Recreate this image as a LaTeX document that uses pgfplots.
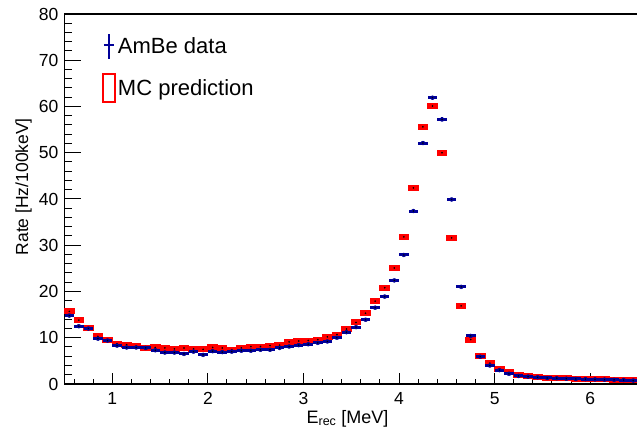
\documentclass[border=0pt]{standalone}
\usepackage{fontspec}
\setmainfont{Liberation Sans}
\usepackage{pgfplots}
\usepackage{pgfplotstable}
\pgfplotsset{compat=1.18}
\definecolor{dblue}{RGB}{0,0,153}
\definecolor{mred}{RGB}{255,0,0}

% x = bin centre [MeV], mc = MC prediction, dat = AmBe data, err = data stat. error
\pgfplotstableread{
x    mc    dat   err
0.55 15.7  14.8  0.22
0.65 13.8  12.5  0.20
0.75 12.0  12.0  0.20
0.85 10.3  9.8   0.18
0.95 9.5   9.4   0.18
1.05 8.7   8.3   0.17
1.15 8.5   7.9   0.16
1.25 8.2   7.9   0.16
1.35 7.8   7.8   0.16
1.45 7.9   7.3   0.15
1.55 7.8   6.8   0.15
1.65 7.6   6.8   0.15
1.75 7.8   6.5   0.15
1.85 7.6   7.0   0.15
1.95 7.5   6.3   0.14
2.05 7.9   7.1   0.15
2.15 7.8   6.9   0.15
2.25 7.4   7.0   0.15
2.35 7.8   7.2   0.15
2.45 8.1   7.2   0.15
2.55 8.1   7.4   0.16
2.65 8.3   7.4   0.16
2.75 8.4   7.8   0.16
2.85 9.1   8.1   0.16
2.95 9.3   8.4   0.17
3.05 9.4   8.6   0.17
3.15 9.6   8.9   0.17
3.25 10.2  9.2   0.17
3.35 10.7  10.0  0.18
3.45 11.9  11.2  0.19
3.55 13.3  12.3  0.20
3.65 15.3  13.9  0.21
3.75 17.9  16.5  0.23
3.85 20.8  18.9  0.25
3.95 25.1  22.4  0.27
4.05 31.8  27.9  0.30
4.15 42.4  37.4  0.35
4.25 55.6  52.1  0.41
4.35 60.1  61.9  0.45
4.45 50.0  57.2  0.43
4.55 31.6  39.9  0.36
4.65 16.9  21.0  0.26
4.75 9.6   10.4  0.18
4.85 6.1   5.9   0.14
4.95 4.5   4.0   0.11
5.05 3.2   3.0   0.10
5.15 2.5   2.2   0.08
5.25 2.0   1.75  0.08
5.35 1.7   1.6   0.07
5.45 1.5   1.45  0.07
5.55 1.4   1.3   0.07
5.65 1.3   1.25  0.06
5.75 1.2   1.15  0.06
5.85 1.15  1.1   0.06
5.95 1.1   1.05  0.06
6.05 1.05  1.0   0.06
6.15 1.0   0.95  0.06
6.25 0.95  0.9   0.05
6.35 0.9   0.85  0.05
6.45 0.85  0.75  0.05
}\histtable

\begin{document}
\begin{tikzpicture}
\useasboundingbox (0,0) rectangle (637bp,429bp);
\begin{axis}[
  at={(64.5bp,45bp)}, anchor=south west,
  scale only axis, width=573.5bp, height=370bp,
  xmin=0.5, xmax=6.5, ymin=0, ymax=80,
  axis line style={line width=1.3bp, black},
  tick align=inside,
  xtick pos=left, ytick pos=left,
  xtick={1,2,3,4,5,6}, ytick={0,10,...,80},
  minor xtick={0.6,0.8,1.2,1.4,1.6,1.8,2.2,2.4,2.6,2.8,3.2,3.4,3.6,3.8,4.2,4.4,4.6,4.8,5.2,5.4,5.6,5.8,6.2,6.4},
  minor ytick={2,4,6,8,12,14,16,18,22,24,26,28,32,34,36,38,42,44,46,48,52,54,56,58,62,64,66,68,72,74,76,78},
  major tick length=13bp, minor tick length=6bp,
  xtick style={/pgfplots/major tick length=10.5bp, /pgfplots/minor tick length=5bp},
  ytick style={/pgfplots/major tick length=16.5bp, /pgfplots/minor tick length=7.5bp},
  tick style={black, line width=1bp},
  /pgf/number format/assume math mode=true,
  ticklabel style={font=\fontsize{17.5bp}{20bp}\selectfont, inner sep=0pt},
  xticklabel shift=8.5bp,
  xticklabel style={anchor=north},
  yticklabel style={anchor=east, xshift=-6bp},
  ylabel={Rate [Hz/100keV]},
  xlabel={E\textsubscript{\fontsize{12.5bp}{12.5bp}\selectfont rec} [MeV]},
  every axis y label/.style={at={(axis description cs:-0.0711,0.533)}, rotate=90, anchor=center, font=\fontsize{17.5bp}{20bp}\selectfont},
  every axis x label/.style={at={(axis description cs:0.4935,-0.106)}, anchor=base, font=\fontsize{18bp}{20bp}\selectfont},
  legend style={at={(axis description cs:0.065,0.95)}, anchor=north west, draw=none, fill=none,
    font=\fontsize{22bp}{26bp}\selectfont, row sep=13bp, inner sep=0pt,
    /tikz/every even column/.append style={column sep=0bp}},
  legend cell align=left,
  clip=false,
]
% MC prediction: red error boxes
\addplot[mred, only marks, mark=*, mark size=0.6bp, mark options={black, draw=black}, forget plot,
  error bars/.cd, x dir=both, x explicit, error mark=none,
  error bar style={line width=6bp, mred, line cap=butt}]
  table[x=x, y=mc, x error expr=0.055] {\histtable};
% AmBe data: vertical stat. errors
\addplot[dblue, only marks, mark=none, forget plot,
  error bars/.cd, y dir=both, y explicit, error mark=none,
  error bar style={line width=1.2bp, dblue}]
  table[x=x, y=dat, y error=err] {\histtable};
% AmBe data: horizontal bin bars
\addplot[dblue, only marks, mark=*, mark size=0.5bp, mark options={black, draw=black}, forget plot,
  error bars/.cd, x dir=both, x explicit, error mark=none,
  error bar style={line width=3bp, dblue, line cap=butt}]
  table[x=x, y=dat, x error expr=0.05] {\histtable};
\addlegendimage{legend image code/.code={
  \draw[dblue, line width=2.5bp] (0bp,-12.5bp) -- (0bp,12.5bp);
  \draw[dblue, line width=2.5bp] (-5bp,1.5bp) -- (5bp,1.5bp);}}
\addlegendentry{AmBe data}
\addlegendimage{legend image code/.code={
  \draw[mred, line width=2bp] (-6bp,-14bp) rectangle (6bp,14bp);}}
\addlegendentry{MC prediction}
\end{axis}
\end{tikzpicture}
\end{document}
